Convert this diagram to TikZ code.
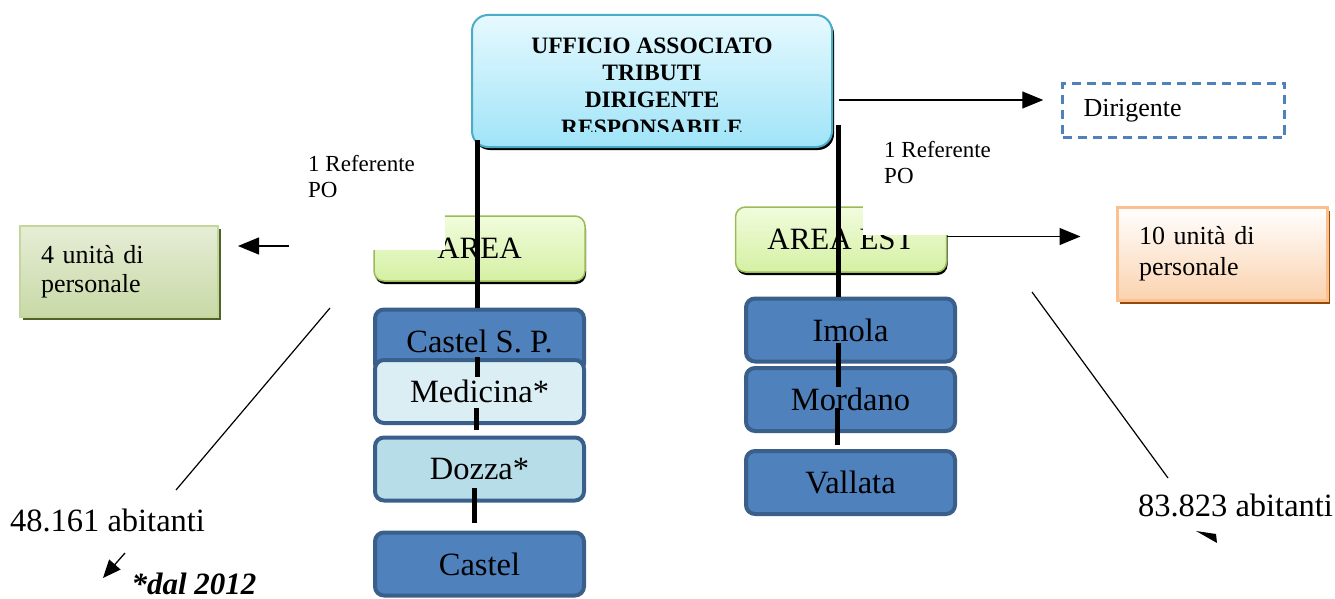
\documentclass[tikz,border=0pt]{standalone}
\usepackage{fontspec}
\setmainfont{Liberation Serif}
\usetikzlibrary{arrows.meta,shadows}
\definecolor{bfill}{HTML}{4F81BD}
\definecolor{bborder}{HTML}{3A5F8B}
\definecolor{medfill}{HTML}{DBEEF4}
\definecolor{dozfill}{HTML}{B6DDE8}
\definecolor{gtop}{HTML}{F1FCDD}
\definecolor{gbot}{HTML}{D5F0A3}
\definecolor{gborder}{HTML}{9BBB59}
\definecolor{ttop}{HTML}{E6F9FE}
\definecolor{tbot}{HTML}{A0E4F8}
\definecolor{tborder}{HTML}{4BACC6}
\definecolor{obot}{HTML}{FBD2AE}
\definecolor{oborder}{HTML}{FAC090}
\definecolor{oshadow}{HTML}{984806}
\definecolor{ltop}{HTML}{E6EDD6}
\definecolor{lbot}{HTML}{C8D9A6}
\definecolor{lborder}{HTML}{C3D69B}
\definecolor{lshadow}{HTML}{4F6228}
\begin{document}
\begin{tikzpicture}[x=1pt,y=-1pt,
  f31/.style={font=\fontsize{32.5}{37}\selectfont},
  f26/.style={font=\fontsize{26}{30}\selectfont},
  f23/.style={font=\fontsize{23}{26}\selectfont},
  bluebox/.style={draw=bborder, line width=4pt, rounded corners=9pt, fill=bfill, minimum width=209pt, minimum height=63pt, inner sep=0pt, f31},
  greenbox/.style={draw=gborder, line width=1.5pt, rounded corners=10pt, top color=gtop, bottom color=gbot, minimum width=211pt, minimum height=65pt, inner sep=0pt, font=\fontsize{31}{36}\selectfont, general shadow={fill=black, shadow xshift=1pt, shadow yshift=-3pt}},
  vline/.style={line width=5pt, black},
  arr/.style={line width=1.3pt, -{Triangle[length=21pt,width=17pt]}},
  arrsmall/.style={line width=1.3pt, -{Triangle[length=18pt,width=15pt]}},
  diag/.style={line width=1.2pt},
]
\useasboundingbox (0,0) rectangle (1335,599);

% top box
\node[draw=tborder, line width=2pt, rounded corners=16pt, top color=ttop, bottom color=tbot, minimum width=360pt, minimum height=132pt, general shadow={fill=black, shadow xshift=2pt, shadow yshift=-3pt}] (top) at (652,81) {};
\begin{scope}
\clip (472,15) rectangle (832,132);
\node[anchor=north, align=center, inner sep=0pt, font=\fontsize{23.5}{27.3}\selectfont\bfseries] (toptext) at (652,37.5) {UFFICIO ASSOCIATO\\TRIBUTI\\DIRIGENTE\\RESPONSABILE};
\end{scope}

% Dirigente
\node[draw=bfill, line width=2.5pt, dash pattern=on 9pt off 6pt, minimum height=54pt, text width=180pt, align=left, inner xsep=21pt, f26] (dir) at (1173.5,110.5) {Dirigente};
\draw[arr] ([shift={(6,19)}]top.east) -- ([shift={(-18,-10.5)}]dir.west);

% referente
\node[f23, align=left, anchor=north west, inner sep=0pt] (ref1) at (308,155.5) {1 Referente\\PO};
\node[f23, align=left, anchor=north west, inner sep=0pt] (ref2) at (884,141) {1 Referente\\PO};

% area boxes
\node[greenbox] (areaw) at (479.5,248.5) {AREA};
\node[greenbox] (areae) at (841,239.5) {AREA EST};
\fill[white] (360,200) rectangle (445,250);
\fill[white] (863,190) rectangle (955,235);

% personale boxes
\node[draw=lborder, line width=2pt, top color=ltop, bottom color=lbot, minimum height=91pt, text width=156pt, inner xsep=21pt, align=left, font=\fontsize{26}{29}\selectfont, general shadow={fill=lshadow, shadow xshift=3pt, shadow yshift=-3pt}] (unitw) at (119,271.5) {4 unità di\\personale};
\node[draw=oborder, line width=3pt, top color=white, bottom color=obot, minimum height=93pt, text width=166pt, inner xsep=22pt, align=left, font=\fontsize{26}{31}\selectfont, general shadow={fill=oshadow, shadow xshift=3pt, shadow yshift=-3pt}] (unite) at (1222,254) {10 unità di\\personale};

\draw[arr] ([shift={(-84,-2.5)}]areaw.west) -- ([shift={(19,-25.5)}]unitw.east);
\draw[arr] ([shift={(0,-3)}]areae.east) -- ([shift={(-35,-17.5)}]unite.west);

% comuni
\node[bluebox] (csp) at (479.5,341) {Castel S. P.};
\node[bluebox, fill=medfill] (med) at (479.5,391.5) {Medicina*};
\node[bluebox, fill=dozfill] (doz) at (479.5,469) {Dozza*};
\node[bluebox] (cas) at (479.5,564) {Castel};
\node[bluebox] (imo) at (850.5,330) {Imola};
\node[bluebox] (mor) at (850.5,399.5) {Mordano};
\node[bluebox] (val) at (850.5,482.5) {Vallata};

% vertical connectors
\coordinate (tl) at (477,140);
\draw[vline] (tl) -- (tl |- csp.north);
\draw[vline] (477,357) -- (477,377);
\draw[vline] (476,408) -- (476,430);
\draw[vline] (474,488) -- (474,523);
\coordinate (tr) at (838,125);
\draw[vline] (tr) -- (tr |- imo.north);
\draw[vline] (838,343) -- (838,387);
\draw[vline] (837,408) -- (837,445);

% abitanti
\node[f31, inner sep=0pt] (abw) at (107.5,520) {48.161 abitanti};
\node[f31, inner sep=0pt] (abe) at (1235.5,505) {83.823 abitanti};
\coordinate (d1a) at (330,308); \coordinate (d1b) at (176,490);
\draw[diag] (d1a) -- (d1b);
\coordinate (d2a) at (1032,292); \coordinate (d2b) at (1168,478);
\draw[diag] (d2a) -- (d2b);
\coordinate (s1) at (125,553); \coordinate (s2) at (103,578);
\draw[arrsmall] (s1) -- (s2);
\node[font=\fontsize{31}{36}\selectfont\bfseries\itshape, inner sep=0pt] (dal) at (194,583.5) {*dal 2012};
\fill (1196,531) -- (1216,534) -- (1217,543) -- cycle;
\end{tikzpicture}
\end{document}
